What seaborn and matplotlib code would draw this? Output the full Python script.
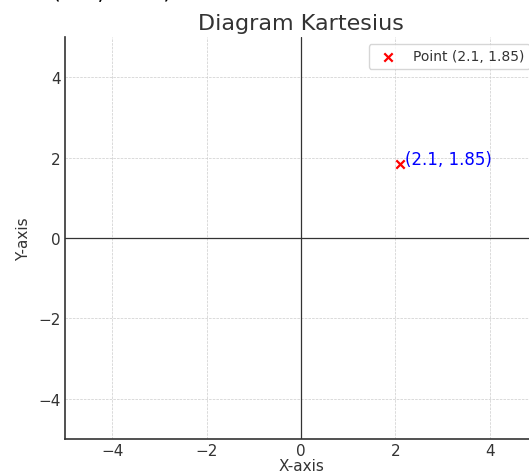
import matplotlib
matplotlib.use("Agg")
import matplotlib.pyplot as plt
import seaborn as sns
import pandas as pd

# Data
point_x = [2.1]
point_y = [1.85]
point_label = "Point (2.1, 1.85)"
annot_text = "(2.1, 1.85)"
title = "Diagram Kartesius"
xlabel = "X-axis"
ylabel = "Y-axis"
ticks = [-4, -2, 0, 2, 4]

sns.set_style("whitegrid", {"grid.linestyle": "--", "grid.color": "#d0d0d0",
                            "axes.edgecolor": "#333333", "text.color": "#333333",
                            "axes.labelcolor": "#333333", "xtick.color": "#333333",
                            "ytick.color": "#333333"})
plt.rcParams['font.family'] = ['DejaVu Sans']

fig = plt.figure(figsize=(5.29, 4.77), dpi=100)
ax = fig.add_axes([65/529, 37/477, 472/529, 402/477])

df = pd.DataFrame({"x": point_x, "y": point_y})
sns.scatterplot(data=df, x="x", y="y", marker="x", color="red", s=36,
                linewidth=1.6, label=point_label, ax=ax)

ax.axhline(0, color="#333333", linewidth=0.9)
ax.axvline(0, color="#333333", linewidth=0.9)

ax.set_xlim(-5, 5)
ax.set_ylim(-5, 5)
ax.set_xticks(ticks)
ax.set_yticks(ticks)
ax.tick_params(labelsize=11, length=0, pad=3)
ax.grid(True, linestyle="--", linewidth=0.5, color="#cccccc")

ax.text(point_x[0] + 0.1, point_y[0], annot_text, color="blue", fontsize=12)

ax.set_title(title, fontsize=16, color="#333333", pad=6)
ax.set_xlabel(xlabel, fontsize=11, labelpad=0)
ax.set_ylabel(ylabel, fontsize=11, labelpad=5)

for side in ["top", "right"]:
    ax.spines[side].set_visible(False)
for side in ["left", "bottom"]:
    ax.spines[side].set_color("#333333")
    ax.spines[side].set_linewidth(1.2)

leg = ax.legend(loc="upper right", fontsize=10, frameon=True)
leg.get_frame().set_edgecolor("#cccccc")

fig.text(52/529, 1.003, "(2.1, 1.85)", fontsize=16.5, color="black", va="baseline", ha="left")

fig.savefig("out.png", dpi=100)
